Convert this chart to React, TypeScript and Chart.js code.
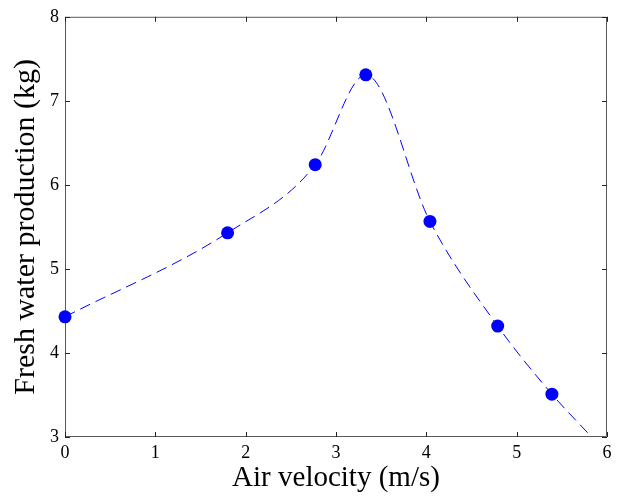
import React, { useEffect, useRef } from 'react';
import { Chart, registerables } from 'chart.js';

Chart.register(...registerables);

// Measured points (air velocity in m/s, fresh water production in kg)
const velocity = [0, 1.8, 2.77, 3.33, 4.04, 4.79, 5.39];
const production = [4.43, 5.43, 6.24, 7.31, 5.565, 4.32, 3.51];
// Where the fitted dashed curve leaves the plot
const curveEndVelocity = [5.83];
const curveEndProduction = [3.0];
// Axes
const xTickValues = [0, 1, 2, 3, 4, 5, 6];
const yTickValues = [3, 4, 5, 6, 7, 8];
const xTitle = 'Air velocity (m/s)';
const yTitle = 'Fresh water production (kg)';

const FONT = '"Liberation Serif", "Times New Roman", serif';

const boxPlugin = {
  id: 'boxTicks',
  beforeDatasetsDraw(chart: any) {
    const { ctx, chartArea } = chart;
    const { left, right, top, bottom } = chartArea;
    const xs = chart.scales.x;
    const ys = chart.scales.y;
    const tl = 5;
    ctx.save();
    ctx.strokeStyle = '#5a5a5a';
    ctx.lineWidth = 1;
    ctx.beginPath();
    ctx.rect(left + 0.5, top + 0.5, right - left - 1, bottom - top - 1);
    ctx.stroke();
    ctx.strokeStyle = '#222222';
    ctx.beginPath();
    xTickValues.forEach((v) => {
      const px = Math.round(xs.getPixelForValue(v)) + 0.5;
      ctx.moveTo(px, bottom);
      ctx.lineTo(px, bottom - tl);
      ctx.moveTo(px, top);
      ctx.lineTo(px, top + tl);
    });
    yTickValues.forEach((v) => {
      const py = Math.round(ys.getPixelForValue(v)) + 0.5;
      ctx.moveTo(left, py);
      ctx.lineTo(left + tl, py);
      ctx.moveTo(right, py);
      ctx.lineTo(right - tl, py);
    });
    ctx.stroke();
    ctx.restore();
  },
};

export default function App() {
  const canvasRef = useRef<HTMLCanvasElement | null>(null);

  useEffect(() => {
    document.body.style.margin = '0';
    const canvas = canvasRef.current;
    if (!canvas) return;

    const markerData = velocity.map((x, i) => ({ x, y: production[i] }));
    const curveData = [
      ...markerData,
      ...curveEndVelocity.map((x, i) => ({ x, y: curveEndProduction[i] })),
    ];

    const chart = new Chart(canvas, {
      type: 'scatter',
      data: {
        datasets: [
          {
            label: 'curve',
            data: curveData,
            showLine: true,
            borderColor: '#0000ff',
            borderWidth: 1,
            borderDash: [11, 6],
            pointRadius: 0,
            pointHoverRadius: 0,
            cubicInterpolationMode: 'monotone',
            fill: false,
          } as any,
          {
            label: 'measured',
            data: markerData,
            showLine: false,
            pointRadius: 6.5,
            pointBackgroundColor: '#0000ff',
            pointBorderColor: '#0000ff',
            pointBorderWidth: 0,
            clip: false,
          } as any,
        ],
      },
      options: {
        animation: false,
        responsive: true,
        maintainAspectRatio: false,
        layout: { padding: { top: 14, right: 14, left: 0, bottom: 0 } },
        plugins: {
          legend: { display: false },
          tooltip: { enabled: false },
        },
        scales: {
          x: {
            type: 'linear',
            min: 0,
            max: 6,
            afterBuildTicks: (scale: any) => {
              scale.ticks = xTickValues.map((value) => ({ value }));
            },
            afterFit: (scale: any) => {
              scale.height = 61;
            },
            grid: { display: false, drawTicks: false },
            border: { display: false },
            ticks: {
              color: '#000',
              padding: 5,
              maxRotation: 0,
              font: { family: FONT, size: 18 },
            },
            title: {
              display: true,
              text: xTitle,
              color: '#000',
              padding: { top: 0, bottom: 2 },
              font: { family: FONT, size: 29 },
            },
          },
          y: {
            type: 'linear',
            min: 3,
            max: 8,
            afterBuildTicks: (scale: any) => {
              scale.ticks = yTickValues.map((value) => ({ value }));
            },
            afterFit: (scale: any) => {
              scale.width = 65;
            },
            grid: { display: false, drawTicks: false },
            border: { display: false },
            ticks: {
              color: '#000',
              padding: 6,
              font: { family: FONT, size: 18 },
            },
            title: {
              display: true,
              text: yTitle,
              color: '#000',
              padding: { top: 8, bottom: 0 },
              font: { family: FONT, size: 30 },
            },
          },
        },
      },
      plugins: [boxPlugin],
    });

    return () => {
      chart.destroy();
    };
  }, []);

  return (
    <div style={{ position: 'relative', width: '621px', height: '498px', background: '#fff' }}>
      <canvas ref={canvasRef} />
    </div>
  );
}
